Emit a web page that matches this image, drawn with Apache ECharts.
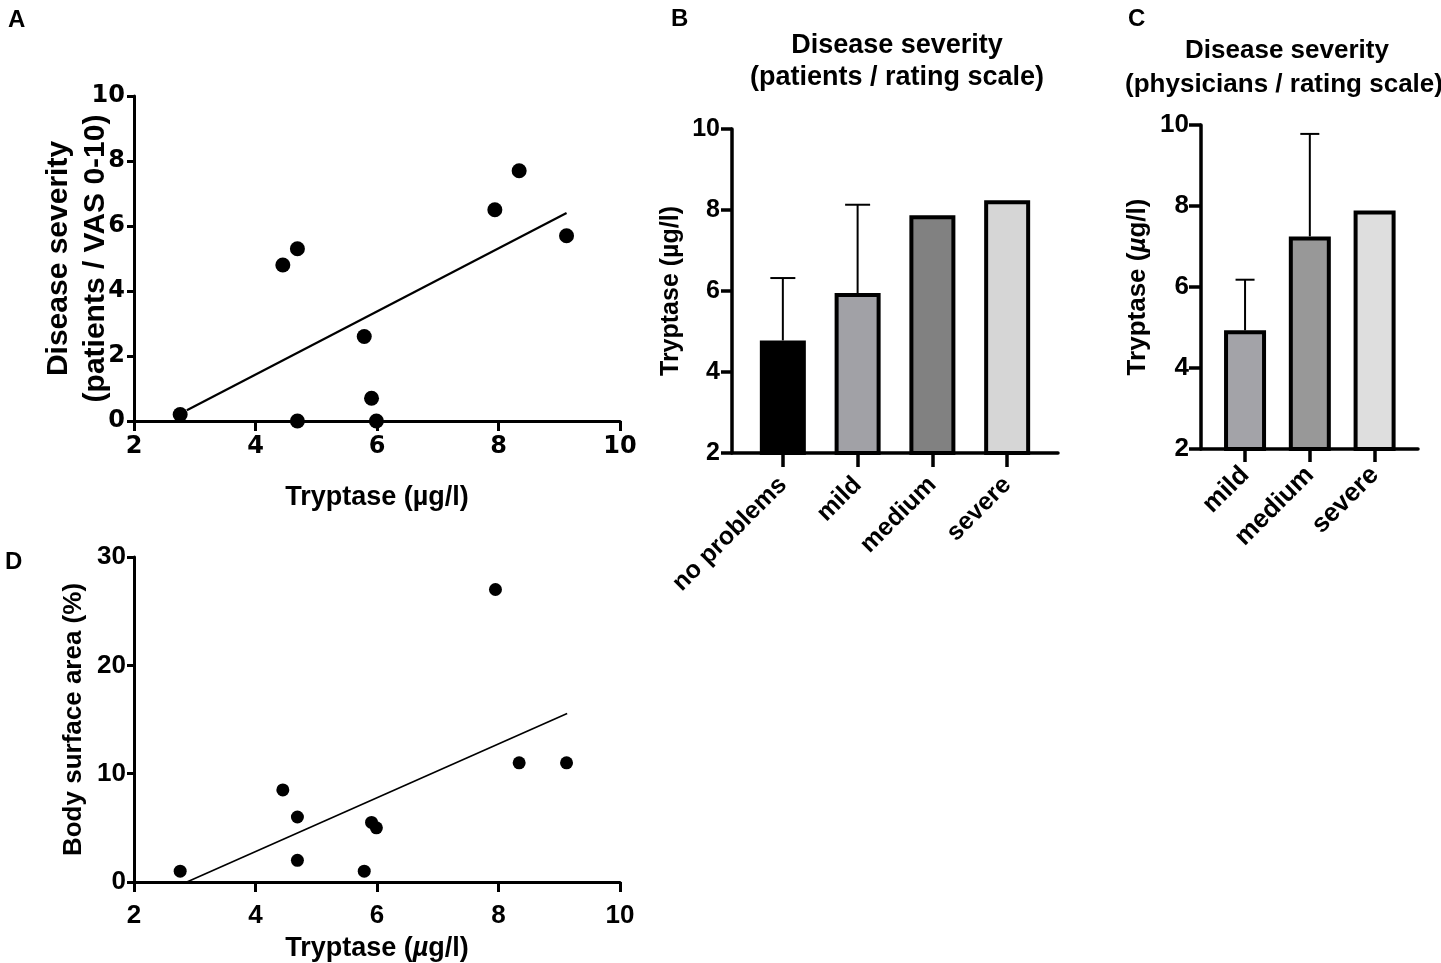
<!DOCTYPE html>
<html>
<head>
<meta charset="utf-8">
<title>Tryptase and disease severity</title>
<script src="https://cdn.jsdelivr.net/npm/echarts@6/dist/echarts.min.js"></script>
<style>
  html, body { margin: 0; padding: 0; background: #fff; }
  #chart { width: 1441px; height: 963px; }
</style>
</head>
<body>
<div id="chart"></div>
<script>
// A: tryptase vs patient VAS
const aTryptase = [2.76, 4.45, 4.69, 4.69, 5.79, 5.91, 5.99, 7.94, 8.34, 9.12]
const aSeverity = [0.2, 4.8, 5.3, 0, 2.6, 0.7, 0, 6.5, 7.7, 5.7]
const aFitX = [2.87, 9.12]
const aFitY = [0.33, 6.4]

// D: tryptase vs body surface area
const dTryptase = [2.76, 4.45, 4.69, 4.69, 5.79, 5.91, 5.99, 7.95, 8.34, 9.12]
const dBsa = [1, 8.5, 6, 2, 1, 5.5, 5, 27, 11, 11]
const dFitX = [2.87, 9.13]
const dFitY = [0, 15.56]

// B: patients rating scale
const bCategories = ['no problems', 'mild', 'medium', 'severe']
const bMeans = [4.78, 5.95, 7.87, 8.24]
const bUpper = [6.32, 8.13, null, null]
const bColors = ['#000000', '#a1a1a6', '#818181', '#d6d6d6']

// C: physicians rating scale
const cCategories = ['mild', 'medium', 'severe']
const cMeans = [4.93, 7.25, 7.89]
const cUpper = [6.18, 9.78, null]
const cColors = ['#a3a3a8', '#989898', '#dedede']

const FONT = '"Liberation Sans", Arial, sans-serif'
const HEAVY = '"DejaVu Sans", "Liberation Sans", sans-serif'
const txt = (size, family) => ({ fontFamily: family || FONT, fontWeight: 'bold', fontSize: size, color: '#000' })

function axisBase(lineW, tickLen) {
    return {
        axisLine: { show: true, onZero: false, lineStyle: { color: '#000', width: lineW } },
        axisTick: { show: true, inside: false, length: tickLen, lineStyle: { color: '#000', width: lineW } },
        splitLine: { show: false },
        nameMoveOverlap: false
    }
}

function pairs(xs, ys) {
    return xs.map((x, i) => [x, ys[i]])
}

// error bar: vertical line from mean to upper + cap
function errorBar(capW) {
    return function (params, api) {
        const top = api.coord([api.value(0), api.value(2)])
        const base = api.coord([api.value(0), api.value(1)])
        return {
            type: 'group',
            children: [
                { type: 'line', shape: { x1: top[0], y1: base[1], x2: top[0], y2: top[1] }, style: { stroke: '#000', lineWidth: 2 } },
                { type: 'line', shape: { x1: top[0] - capW / 2, y1: top[1], x2: top[0] + capW / 2, y2: top[1] }, style: { stroke: '#000', lineWidth: 2 } }
            ]
        }
    }
}

function label(text, x, y, size, align) {
    return {
        type: 'text', x: x, y: y,
        style: Object.assign({ text: text, fill: '#000', align: align || 'center', verticalAlign: 'middle' }, txt(size))
    }
}

const chart = echarts.init(document.getElementById('chart'), null, { renderer: 'canvas' })

const italicMu = (size) => Object.assign({ rich: { i: Object.assign({ fontStyle: 'italic' }, txt(size)) } }, txt(size))

const option = {
    backgroundColor: '#fff',
    animation: false,
    graphic: [
        label('A', 8, 20, 24, 'left'),
        label('B', 671, 19, 24, 'left'),
        label('C', 1128, 19, 24, 'left'),
        label('D', 5, 562, 24, 'left'),
        label('Disease severity', 897, 46, 27),
        label('(patients / rating scale)', 897, 78, 27),
        label('Disease severity', 1287, 51, 26),
        label('(physicians / rating scale)', 1284, 85, 26)
    ],
    grid: [
        { left: 134, top: 96, width: 486, height: 325 },
        { left: 732, top: 129, width: 326, height: 324 },
        { left: 1201, top: 125, width: 217, height: 324 },
        { left: 134, top: 557, width: 486, height: 326 }
    ],
    xAxis: [
        Object.assign(axisBase(3, 10), {
            gridIndex: 0, type: 'value', min: 2, max: 10, interval: 2,
            axisLabel: Object.assign({ margin: 14 }, txt(24, HEAVY)),
            name: 'Tryptase (µg/l)', nameLocation: 'middle', nameGap: 63, nameTextStyle: txt(27)
        }),
        Object.assign(axisBase(3.5, 14), {
            gridIndex: 1, type: 'value', min: -0.68, max: 3.68,
            axisTick: { show: true, length: 14, customValues: [0, 1, 2, 3], lineStyle: { color: '#000', width: 3.5 } },
            axisLabel: Object.assign({ margin: 28, rotate: 45, customValues: [0, 1, 2, 3], formatter: (v) => bCategories[Math.round(v)] }, txt(25))
        }),
        Object.assign(axisBase(3.5, 13), {
            gridIndex: 2, type: 'value', min: -0.68, max: 2.67,
            axisTick: { show: true, length: 13, customValues: [0, 1, 2], lineStyle: { color: '#000', width: 3.5 } },
            axisLabel: Object.assign({ margin: 22, rotate: 45, customValues: [0, 1, 2], formatter: (v) => cCategories[Math.round(v)] }, txt(26))
        }),
        Object.assign(axisBase(3, 10), {
            gridIndex: 3, type: 'value', min: 2, max: 10, interval: 2,
            axisLabel: Object.assign({ margin: 21 }, txt(26)),
            name: 'Tryptase ({i|µ}g/l)', nameLocation: 'middle', nameGap: 53, nameTextStyle: italicMu(27)
        })
    ],
    yAxis: [
        Object.assign(axisBase(3, 7), {
            gridIndex: 0, type: 'value', min: 0, max: 10, interval: 2,
            axisLabel: Object.assign({ margin: 9 }, txt(24, HEAVY)),
            name: 'Disease severity\n(patients / VAS 0-10)', nameLocation: 'middle', nameGap: 20,
            nameTextStyle: Object.assign({ lineHeight: 37 }, txt(30))
        }),
        Object.assign(axisBase(3.5, 11), {
            gridIndex: 1, type: 'value', min: 2, max: 10, interval: 2,
            axisLabel: Object.assign({ margin: 12 }, txt(25)),
            name: 'Tryptase (µg/l)', nameLocation: 'middle', nameGap: 48, nameTextStyle: txt(25)
        }),
        Object.assign(axisBase(3.5, 12), {
            gridIndex: 2, type: 'value', min: 2, max: 10, interval: 2,
            axisLabel: Object.assign({ margin: 12 }, txt(26)),
            name: 'Tryptase ({i|µ}g/l)', nameLocation: 'middle', nameGap: 50, nameTextStyle: italicMu(26)
        }),
        Object.assign(axisBase(3, 7), {
            gridIndex: 3, type: 'value', min: 0, max: 30, interval: 10,
            axisLabel: Object.assign({ margin: 8 }, txt(26)),
            name: 'Body surface area (%)', nameLocation: 'middle', nameGap: 47, nameTextStyle: txt(26)
        })
    ],
    series: [
        // A
        {
            type: 'line', xAxisIndex: 0, yAxisIndex: 0, data: pairs(aFitX, aFitY),
            symbol: 'none', lineStyle: { color: '#000', width: 2.2 }, z: 3
        },
        {
            type: 'scatter', xAxisIndex: 0, yAxisIndex: 0, data: pairs(aTryptase, aSeverity),
            symbolSize: 15, itemStyle: { color: '#000', opacity: 1 }, clip: false, z: 4
        },
        // B
        {
            type: 'bar', xAxisIndex: 1, yAxisIndex: 1, barWidth: 46,
            data: bMeans.map((v, i) => ({ value: [i, v], itemStyle: { color: bColors[i], borderColor: '#000', borderWidth: 4 } })),
            z: 2
        },
        {
            type: 'custom', xAxisIndex: 1, yAxisIndex: 1, renderItem: errorBar(25), clip: false, z: 1,
            data: bUpper.map((u, i) => [i, bMeans[i], u]).filter((d) => d[2] !== null)
        },
        // C
        {
            type: 'bar', xAxisIndex: 2, yAxisIndex: 2, barWidth: 42,
            data: cMeans.map((v, i) => ({ value: [i, v], itemStyle: { color: cColors[i], borderColor: '#000', borderWidth: 4 } })),
            z: 2
        },
        {
            type: 'custom', xAxisIndex: 2, yAxisIndex: 2, renderItem: errorBar(19), clip: false, z: 1,
            data: cUpper.map((u, i) => [i, cMeans[i], u]).filter((d) => d[2] !== null)
        },
        // D
        {
            type: 'line', xAxisIndex: 3, yAxisIndex: 3, data: pairs(dFitX, dFitY),
            symbol: 'none', lineStyle: { color: '#000', width: 1.6 }, z: 3
        },
        {
            type: 'scatter', xAxisIndex: 3, yAxisIndex: 3, data: pairs(dTryptase, dBsa),
            symbolSize: 13, itemStyle: { color: '#000', opacity: 1 }, clip: false, z: 4
        }
    ]
}

chart.setOption(option)
</script>
</body>
</html>
